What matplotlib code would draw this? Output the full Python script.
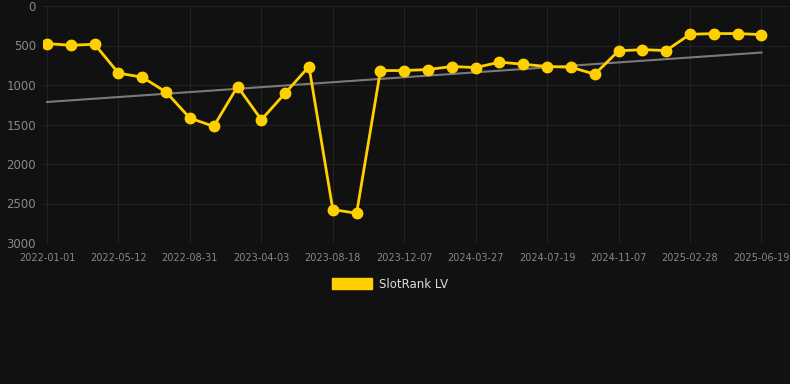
import numpy as np
import matplotlib
matplotlib.use("Agg")
import matplotlib.pyplot as plt
from matplotlib.patches import Patch

# dates on a category axis, every third one labelled
dates = ["2022-01-01", "2022-02-14", "2022-03-30", "2022-05-12", "2022-06-18", "2022-07-25",
         "2022-08-31", "2022-11-11", "2023-01-22", "2023-04-03", "2023-05-19", "2023-07-04",
         "2023-08-18", "2023-09-24", "2023-10-31", "2023-12-07", "2024-01-13", "2024-02-19",
         "2024-03-27", "2024-05-04", "2024-06-11", "2024-07-19", "2024-08-25", "2024-10-01",
         "2024-11-07", "2024-12-15", "2025-01-21", "2025-02-28", "2025-04-06", "2025-05-13",
         "2025-06-19"]
rank = [476, 497, 484, 850, 901, 1090, 1419, 1524, 1019, 1440, 1103, 766,
        2577, 2623, 817, 817, 804, 766, 779, 711, 737, 766, 775, 863,
        568, 552, 564, 358, 349, 349, 362]
trend_ends = [1215, 589]
y_ticks = [0, 500, 1000, 1500, 2000, 2500, 3000]

BG = "#111111"
YELLOW = "#ffd000"

fig = plt.figure(figsize=(7.9, 3.84), dpi=100, facecolor=BG)
ax = fig.add_axes([43 / 790, 1 - 243 / 384, 1 - 43 / 790, (243 - 6) / 384])
ax.set_facecolor(BG)

x = np.arange(len(dates))
ax.plot([x[0], x[-1]], trend_ends, color="#7a7a7a", lw=1.5, zorder=2)
ax.plot(x, rank, color=YELLOW, lw=2.0, marker="o", markersize=7.5, zorder=3)

ax.set_xlim(-0.17, 31.2)
ax.set_ylim(3000, 0)
ax.set_yticks(y_ticks)
ax.set_yticklabels([str(v) for v in y_ticks])
ax.set_xticks(x[::3])
ax.set_xticklabels(dates[::3])

ax.grid(True, color="#222222", lw=0.8)
ax.set_axisbelow(True)
for s in ax.spines.values():
    s.set_visible(False)
ax.tick_params(axis="x", length=0, pad=7, labelsize=7, labelcolor="#888888")
ax.tick_params(axis="y", length=0, pad=5, labelsize=8.5, labelcolor="#888888")

handle = Patch(facecolor=YELLOW, edgecolor=YELLOW)
leg = fig.legend([handle], ["SlotRank LV"], loc="center", bbox_to_anchor=(390 / 790, 1 - 284 / 384),
                 frameon=False, fontsize=8.5, handlelength=3.4, handleheight=1.0,
                 handletextpad=0.6, labelcolor="#dddddd")

fig.savefig("out.png", dpi=100, facecolor=BG)
